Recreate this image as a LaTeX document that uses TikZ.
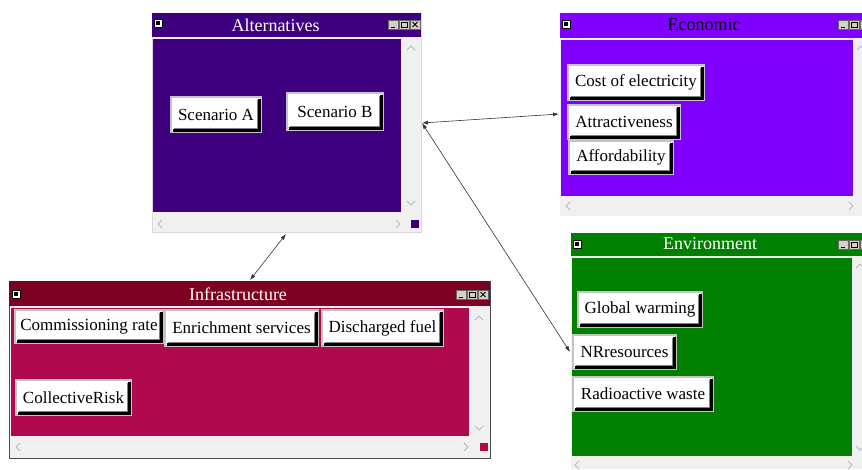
\documentclass[tikz,border=0pt]{standalone}
\usepackage{fontspec}
\setmainfont{Liberation Serif}
\usetikzlibrary{arrows.meta}
\definecolor{altc}{HTML}{3F007F}
\definecolor{ecoc}{HTML}{8000FF}
\definecolor{envc}{HTML}{007F00}
\definecolor{inftc}{HTML}{7D0022}
\definecolor{infc}{HTML}{B00A4E}
\definecolor{sbar}{HTML}{F0F0F0}
\definecolor{btngray}{HTML}{C4C4C4}
\definecolor{chev}{HTML}{B8B8B8}
\definecolor{tbtn}{HTML}{D4D0C8}
\tikzset{
  btn/.style={fill=white, draw=btngray, line width=2pt, inner sep=0pt,
    font=\fontsize{17}{17}\selectfont, text=black},
  btnshadow/.style={draw=black, line width=2.2pt},
  btninner/.style={draw=gray, line width=0.8pt},
  wtitle/.style={font=\fontsize{18}{18}\selectfont, inner sep=0pt},
  chevron/.style={draw=chev, line width=0.8pt},
  link/.style={draw=black!80, line width=0.6pt, {Latex[length=6pt,width=4pt]}-{Latex[length=6pt,width=4pt]}},
  ticon/.style={fill=white, draw=black, line width=0.6pt},
  tbox/.style={fill=tbtn, draw=black!60, line width=0.4pt},
}
\newcommand{\sysicon}[2]{%
  \path[ticon] (#1,#2) rectangle ++(8,8);
  \fill[black] (#1+2,#2+2) rectangle ++(4,4);}
\newcommand{\winbtns}[2]{%
  \path[tbox] (#1,#2) rectangle ++(10,9);
  \draw[black, line width=1pt] (#1+2.5,#2+7) -- ++(4,0);
  \path[tbox] (#1+11,#2) rectangle ++(10,9);
  \draw[black, line width=0.7pt] (#1+13,#2+2) rectangle ++(6,5);
  \path[tbox] (#1+22,#2) rectangle ++(10,9);
  \draw[black, line width=0.8pt] (#1+24.5,#2+2) -- ++(5,5) (#1+24.5,#2+7) -- ++(5,-5);}
\newcommand{\chup}[2]{\draw[chevron] (#1-4,#2+2) -- (#1,#2-2) -- (#1+4,#2+2);}
\newcommand{\chdown}[2]{\draw[chevron] (#1-4,#2-2) -- (#1,#2+2) -- (#1+4,#2-2);}
\newcommand{\chleft}[2]{\draw[chevron] (#1+2,#2-4) -- (#1-2,#2) -- (#1+2,#2+4);}
\newcommand{\chright}[2]{\draw[chevron] (#1-2,#2-4) -- (#1+2,#2) -- (#1-2,#2+4);}
\begin{document}
\begin{tikzpicture}[x=1pt,y=-1pt]
\useasboundingbox (0,0) rectangle (862,469);
\clip (0,0) rectangle (862,469);
\fill[white] (0,0) rectangle (862,469);

% ---------- Alternatives window ----------
\fill[sbar] (152,13) rectangle (421,232);
\draw[black!15, line width=0.5pt] (152,13) rectangle (421,232);
\fill[altc] (152,13) rectangle (421,37);
\fill[altc] (153,39) rectangle (401,212);
\fill[altc] (411,220) rectangle (419,228);
\node[wtitle, text=white] (altT) at (275.5,25) {Alternatives};
\sysicon{154}{19}
\winbtns{388}{20}
\chup{411}{48}
\chdown{411}{203}
\chleft{160}{224}
\chright{398}{224}

% ---------- Economic window ----------
\fill[sbar] (560,13) rectangle (862,216);
\fill[ecoc] (560,13) rectangle (862,38);
\fill[ecoc] (561,40) rectangle (853,196);
\node[wtitle, text=black] (ecoT) at (704,25) {Economic};
\sysicon{562}{20}
\winbtns{838}{20}
\chup{861}{48}
\chleft{568}{206}
\chright{851}{206}

% ---------- Environment window ----------
\fill[sbar] (571,233) rectangle (862,469);
\fill[envc] (571,233) rectangle (862,256);
\fill[envc] (572,258) rectangle (852,456);
\node[wtitle, text=white] (envT) at (710,244) {Environment};
\sysicon{573}{240}
\winbtns{838}{240}
\chup{860}{266}
\chdown{860}{448}
\chleft{577}{465}
\chright{850}{465}

% ---------- Infrastructure window ----------
\fill[sbar] (9,281) rectangle (490,458);
\draw[black!70, line width=0.8pt] (9,281) rectangle (490,458);
\fill[inftc] (9,281) rectangle (490,306);
\fill[infc] (11,308) rectangle (469,436);
\fill[infc] (480,443) rectangle (488,451);
\node[wtitle, text=white] (infT) at (238,294) {Infrastructure};
\sysicon{12}{290}
\winbtns{456}{290}
\chup{479}{318}
\chdown{479}{428}
\chleft{18}{447}
\chright{466}{447}

% ---------- Buttons ----------
\node[btn, minimum width=90pt, minimum height=35pt] (sa) at (216,114.5) {Scenario A};
\node[btn, minimum width=96pt, minimum height=37pt] (sb) at (335,111.5) {Scenario B};
\node[btn, minimum width=136pt, minimum height=35pt] (ce) at (636,82.5) {Cost of electricity};
\node[btn, minimum width=112pt, minimum height=34pt] (at) at (624,122) {Attractiveness};
\node[btn, minimum width=104pt, minimum height=33pt] (af) at (621,157.5) {Affordability};
\node[btn, minimum width=124pt, minimum height=35pt] (gw) at (640,309.5) {Global warming};
\node[btn, minimum width=103pt, minimum height=34pt] (nr) at (624.5,352) {NRresources};
\node[btn, minimum width=140pt, minimum height=34pt] (rw) at (643,394) {Radioactive waste};
\node[btn, minimum width=148pt, minimum height=33pt] (cr) at (89,326.5) {Commissioning rate};
\node[btn, minimum width=153pt, minimum height=36pt] (es) at (241.5,328) {Enrichment services};
\node[btn, minimum width=121pt, minimum height=36pt] (df) at (382.5,328) {Discharged fuel};
\node[btn, minimum width=115pt, minimum height=35pt] (ck) at (73.5,397.5) {CollectiveRisk};
\foreach \b in {sa,sb,ce,at,af,gw,nr,rw,cr,es,df,ck}{
  \draw[btnshadow] ([shift={(2.5pt,2.5pt)}]\b.south west) -- ([shift={(-2.5pt,2.5pt)}]\b.south east) -- ([shift={(-2.5pt,-2.5pt)}]\b.north east);
  \draw[btninner] ([shift={(4pt,4.4pt)}]\b.south west) -- ([shift={(-4.4pt,4.4pt)}]\b.south east) -- ([shift={(-4.4pt,-4pt)}]\b.north east);
}

% ---------- Connectors ----------
\coordinate (altE) at (422,123);
\coordinate (ecoW) at (559,114);
\coordinate (envW) at (570,352);
\coordinate (altS) at (286,234);
\coordinate (infN) at (250,280);
\draw[link] (altE) -- (ecoW);
\draw[link] (altE) -- (envW);
\draw[link] (altS) -- (infN);
\end{tikzpicture}
\end{document}
